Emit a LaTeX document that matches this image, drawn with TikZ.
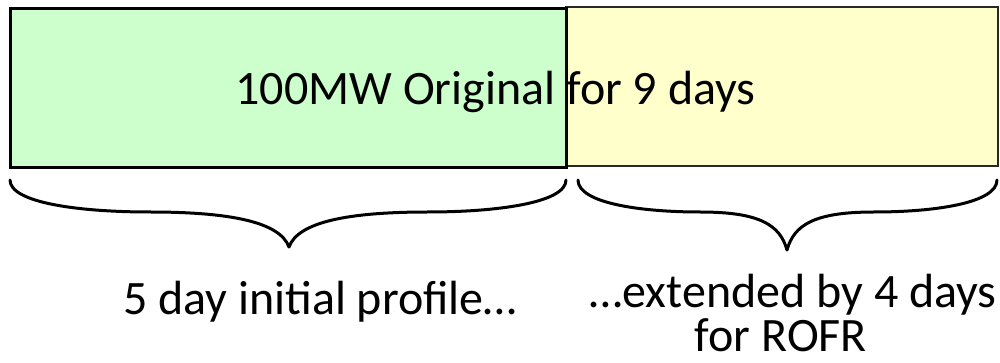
\documentclass[tikz,border=0pt]{standalone}
\usepackage{fontspec}
\setmainfont{Carlito}

\definecolor{blockgreen}{RGB}{204,255,204}
\definecolor{blockyellow}{RGB}{255,255,204}
\definecolor{edgegrey}{RGB}{40,40,40}

\tikzset{every picture/.style={line width=0.75pt}}
\tikzset{
  bigtext/.style={font=\fontsize{36}{40}\selectfont, inner sep=0pt, anchor=base},
  bracecurve/.style={line width=2.25pt, line cap=round, line join=round}
}

\begin{document}
\begin{tikzpicture}[x=0.75pt,y=0.75pt,yscale=-1,xscale=1]
        \useasboundingbox (0,0) rectangle (1000,363);

        % Blocks
        \draw [color=edgegrey, line width=1.5pt, fill=blockyellow] (566,7) -- (998,7) -- (998,166) -- (566,166) -- cycle ;
        \draw [line width=2.25pt, fill=blockgreen] (10,9) -- (566,9) -- (566,168) -- (10,168) -- cycle ;

        % Text
        \node [bigtext] (title) at (495.5,105) {100MW Original for 9 days};

        % Braces
        \draw [bracecurve] (10,180) .. controls (10,203) and (80,212) .. (150,212) .. controls (230,212) and (280,222) .. (289,247) ;
        \draw [bracecurve] (566,180) .. controls (566,203) and (496,212) .. (428,212) .. controls (348,212) and (298,222) .. (289,247) ;
        \draw [bracecurve] (578,180) .. controls (578,203) and (640,212) .. (700,212) .. controls (760,212) and (780,225) .. (787,250) ;
        \draw [bracecurve] (997,180) .. controls (997,203) and (935,212) .. (874,212) .. controls (814,212) and (794,225) .. (787,250) ;

        % Labels
        \node [bigtext] (initial) at (320,315) {5 day initial profile…};
        \node [bigtext] (extended) at (793,308) {…extended by 4 days};
        \node [bigtext] (rofr) at (781,352) {for ROFR};

\end{tikzpicture}
\end{document}
